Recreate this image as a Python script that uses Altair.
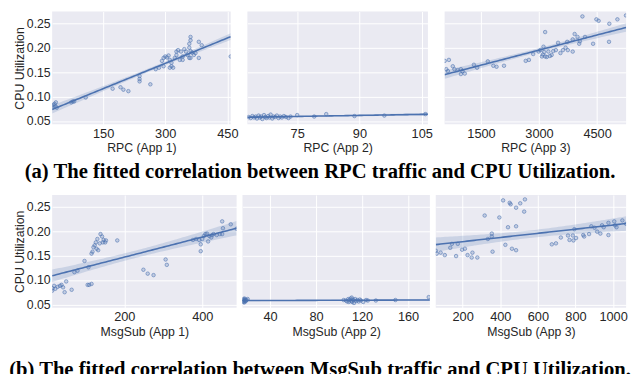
import altair as alt
import numpy as np
import pandas as pd

BLUE = "#4C72B0"
PANEL_BG = "#EAEAF2"
Y_DOMAIN = [0.043, 0.274]
Y_TICKS = [0.05, 0.10, 0.15, 0.20, 0.25]
Y_TITLE = "CPU Utilization"

CAPTION_A = "(a) The fitted correlation between RPC traffic and CPU Utilization."
CAPTION_B = "(b) The fitted correlation between MsgSub traffic and CPU Utilization."

# ---------------- RPC (App 1) ----------------
rpc1_title = "RPC (App 1)"
rpc1_domain = [27, 458]
rpc1_ticks = [150, 300, 450]
rpc1_x = [27, 30, 33, 36, 35, 38, 73, 77, 80, 108, 173, 192, 199, 211, 238, 238, 238, 264, 277, 285,
          292, 296, 296, 300, 304, 308, 311, 311, 315, 315, 319, 323, 327, 327, 331, 335, 338, 342, 342, 346,
          350, 354, 358, 358, 358, 361, 361, 361, 361, 365, 369, 373, 381, 381, 388, 458]
rpc1_y = [0.080, 0.083, 0.085, 0.088, 0.080, 0.077, 0.088, 0.090, 0.090, 0.098, 0.116, 0.119, 0.114, 0.111,
          0.142, 0.136, 0.131, 0.125, 0.156, 0.159, 0.173, 0.179, 0.162, 0.182, 0.180, 0.184, 0.175, 0.159,
          0.169, 0.162, 0.159, 0.179, 0.192, 0.185, 0.195, 0.175, 0.192, 0.182, 0.175, 0.197, 0.192, 0.185,
          0.179, 0.208, 0.200, 0.215, 0.179, 0.222, 0.193, 0.190, 0.185, 0.189, 0.212, 0.179, 0.205, 0.182]

# ---------------- RPC (App 2) ----------------
rpc2_title = "RPC (App 2)"
rpc2_domain = [63, 106.5]
rpc2_ticks = [75, 90, 105]
rpc2_x = [63.3, 63.8, 64.2, 64.6, 65.0, 65.3, 65.7, 66.0, 66.3, 66.6, 67.0, 67.3, 67.6, 68.0, 68.3, 68.6,
          69.0, 69.3, 69.7, 70.1, 70.5, 70.9, 71.3, 71.8, 72.3, 72.9, 73.4, 75.0, 79.1, 82.0, 88.8, 96.0, 105.9]
rpc2_y = [0.058, 0.056, 0.060, 0.057, 0.059, 0.055, 0.061, 0.057, 0.059, 0.054, 0.062, 0.058, 0.056, 0.060,
          0.057, 0.063, 0.055, 0.059, 0.058, 0.061, 0.056, 0.059, 0.057, 0.060, 0.058, 0.056, 0.059, 0.062,
          0.059, 0.064, 0.060, 0.061, 0.064]

# ---------------- RPC (App 3) ----------------
rpc3_title = "RPC (App 3)"
rpc3_domain = [560, 5250]
rpc3_ticks = [1500, 3000, 4500]
rpc3_x = [563, 671, 603, 646, 771, 814, 897, 981, 981, 1023, 1081, 1317, 1400, 1676, 1819, 1902, 2095,
          2656, 2739, 2849, 2990, 3033, 3075, 3115, 3133, 3158, 3158, 3241, 3326, 3367, 3435, 3492, 3553,
          3618, 3686, 3728, 3744, 3870, 3870, 3920, 3995, 4038, 4055, 4121, 4188, 4397, 4482, 4540, 4808,
          4816, 5025, 5247, 3100, 3200, 3280]
rpc3_y = [0.173, 0.175, 0.156, 0.152, 0.162, 0.156, 0.154, 0.156, 0.146, 0.152, 0.147, 0.165, 0.159, 0.172,
          0.163, 0.161, 0.163, 0.173, 0.175, 0.187, 0.192, 0.195, 0.182, 0.202, 0.191, 0.182, 0.232, 0.192,
          0.185, 0.193, 0.195, 0.210, 0.189, 0.195, 0.200, 0.212, 0.195, 0.192, 0.217, 0.228, 0.222, 0.208,
          0.213, 0.264, 0.222, 0.208, 0.258, 0.255, 0.212, 0.249, 0.258, 0.266, 0.186, 0.181, 0.183]

# ---------------- MsgSub (App 1) ----------------
msg1_title = "MsgSub (App 1)"
msg1_domain = [15, 488]
msg1_ticks = [200, 400]
msg1_x = [15, 16, 20, 23, 29, 35, 39, 43, 47, 51, 65, 72, 80, 98, 106, 110, 116, 108, 116, 118.5,
          121, 124, 127, 129, 131, 133, 137, 139, 143, 145, 147, 151, 153, 182, 249, 260, 275, 306, 309, 376,
          384, 392, 396, 396, 400, 404, 408, 412, 415, 418, 423, 425, 429, 437, 445, 451, 451, 453, 473, 488]
msg1_y = [0.078, 0.083, 0.088, 0.082, 0.086, 0.088, 0.090, 0.085, 0.075, 0.097, 0.080, 0.116, 0.119, 0.139,
          0.090, 0.090, 0.092, 0.126, 0.154, 0.158, 0.167, 0.171, 0.177, 0.164, 0.184, 0.161, 0.175, 0.194,
          0.189, 0.177, 0.182, 0.177, 0.181, 0.181, 0.121, 0.113, 0.110, 0.142, 0.131, 0.182, 0.184, 0.182,
          0.173, 0.159, 0.184, 0.190, 0.194, 0.195, 0.179, 0.190, 0.187, 0.192, 0.194, 0.192, 0.194, 0.220,
          0.194, 0.206, 0.214, 0.205]

# ---------------- MsgSub (App 2) ----------------
msg2_title = "MsgSub (App 2)"
msg2_domain = [16, 179]
msg2_ticks = [40, 80, 120, 160]
msg2_x = [16.2, 16.5, 16.8, 17.0, 17.3, 17.5, 17.8, 18.0, 18.3, 18.6, 19.0, 19.5, 20.5, 104, 106, 107, 108,
          108.5, 109, 110, 110.5, 111, 111.5, 112, 112.5, 113, 114, 115, 116, 117, 118, 119, 121, 123.5, 125,
          132, 149, 178]
msg2_y = [0.058, 0.055, 0.061, 0.056, 0.059, 0.054, 0.062, 0.057, 0.060, 0.056, 0.058, 0.059, 0.061, 0.059,
          0.058, 0.056, 0.061, 0.055, 0.059, 0.062, 0.057, 0.064, 0.055, 0.060, 0.058, 0.053, 0.061, 0.057,
          0.059, 0.056, 0.060, 0.058, 0.055, 0.059, 0.058, 0.058, 0.059, 0.065]

# ---------------- MsgSub (App 3) ----------------
msg3_title = "MsgSub (App 3)"
msg3_domain = [57, 1069]
msg3_ticks = [200, 400, 600, 800, 1000]
msg3_x = [57, 62, 83, 105, 134, 143, 165, 174, 197, 212, 226, 248, 252, 278, 317, 334, 355, 355, 359, 395,
          415, 427, 441, 450, 455, 462, 484, 484, 484, 506, 527, 531, 674, 696, 722, 760, 768, 786, 789, 794,
          803, 841, 846, 872, 884, 901, 915, 932, 941, 950, 975, 975, 1006, 1010, 1018, 1049, 1069]
msg3_y = [0.160, 0.154, 0.156, 0.151, 0.166, 0.174, 0.149, 0.174, 0.162, 0.164, 0.151, 0.146, 0.156, 0.146,
          0.232, 0.184, 0.195, 0.189, 0.158, 0.228, 0.263, 0.172, 0.208, 0.258, 0.255, 0.164, 0.210, 0.161,
          0.248, 0.257, 0.240, 0.265, 0.173, 0.175, 0.187, 0.191, 0.182, 0.191, 0.181, 0.204, 0.186, 0.192,
          0.189, 0.194, 0.210, 0.207, 0.199, 0.195, 0.212, 0.208, 0.217, 0.192, 0.220, 0.212, 0.208, 0.222,
          0.215]

ROW_H = 115
ROW1_W = [182, 184, 185]
ROW1_GAP = 17
ROW2_W = [188, 191, 194]
ROW2_GAP = 6
ROWS_GAP = 13


def fit_table(x, y, domain):
    """Ordinary least squares fit plus 95% confidence band, evaluated across the axis range."""
    x = np.asarray(x, float)
    y = np.asarray(y, float)
    n = len(x)
    slope, intercept = np.polyfit(x, y, 1)
    grid = np.linspace(domain[0], domain[1], 80)
    yhat = intercept + slope * grid
    resid = y - (intercept + slope * x)
    s = np.sqrt(np.sum(resid ** 2) / (n - 2))
    sxx = np.sum((x - x.mean()) ** 2)
    se = s * np.sqrt(1.0 / n + (grid - x.mean()) ** 2 / sxx)
    return pd.DataFrame({"x": grid, "fit": yhat, "lo": yhat - 1.96 * se, "hi": yhat + 1.96 * se})


def caption_layer(text, xpos, ypos):
    return alt.Chart(pd.DataFrame({"t": [text]})).mark_text(
        font="Liberation Serif", fontWeight="bold", fontSize=21, align="center",
        baseline="alphabetic", color="black", clip=False
    ).encode(text="t:N", x=alt.value(xpos), y=alt.value(ypos))


def panel(x, y, domain, ticks, title, width, show_y, extra=None):
    pts = pd.DataFrame({"x": x, "y": y})
    fit = fit_table(x, y, domain)
    xs = alt.Scale(domain=domain, nice=False, zero=False)
    ys = alt.Scale(domain=Y_DOMAIN, nice=False, zero=False)
    xax = alt.Axis(values=ticks, title=title, format="d", labelFlush=False, labelPadding=3,
                   titlePadding=2, labelOverlap=False)
    if show_y:
        yax = alt.Axis(values=Y_TICKS, format=".2f", title=Y_TITLE, labelPadding=2, titlePadding=0,
                       labelOverlap=False, labelFontSize=12.5, labelSeparation=0)
    else:
        yax = alt.Axis(values=Y_TICKS, labels=False, title=None)
    band = alt.Chart(fit).mark_area(color=BLUE, opacity=0.2, clip=True).encode(
        x=alt.X("x:Q", scale=xs, axis=xax),
        y=alt.Y("lo:Q", scale=ys, axis=yax),
        y2="hi:Q",
    )
    line = alt.Chart(fit).mark_line(color=BLUE, strokeWidth=1.6, clip=True).encode(
        x=alt.X("x:Q", scale=xs, axis=xax),
        y=alt.Y("fit:Q", scale=ys, axis=yax),
    )
    dots = alt.Chart(pts).mark_point(
        shape="circle", size=13, fill=BLUE, fillOpacity=0.25, stroke=BLUE, strokeOpacity=0.7,
        strokeWidth=0.8, clip=True
    ).encode(
        x=alt.X("x:Q", scale=xs, axis=xax),
        y=alt.Y("y:Q", scale=ys, axis=yax),
    )
    layers = [band, line, dots]
    if extra is not None:
        layers.append(extra)
    return alt.layer(*layers).properties(
        width=width, height=ROW_H, view=alt.ViewBackground(fill=PANEL_BG, stroke=None)
    )


# caption positions are relative to the middle panel of each row
cap_a = caption_layer(CAPTION_A, 74, 170)
cap_b = caption_layer(CAPTION_B, 79, 184)

row1 = alt.hconcat(
    panel(rpc1_x, rpc1_y, rpc1_domain, rpc1_ticks, rpc1_title, ROW1_W[0], True),
    panel(rpc2_x, rpc2_y, rpc2_domain, rpc2_ticks, rpc2_title, ROW1_W[1], False, cap_a),
    panel(rpc3_x, rpc3_y, rpc3_domain, rpc3_ticks, rpc3_title, ROW1_W[2], False),
    spacing=ROW1_GAP, bounds="flush",
)
row2 = alt.hconcat(
    panel(msg1_x, msg1_y, msg1_domain, msg1_ticks, msg1_title, ROW2_W[0], True),
    panel(msg2_x, msg2_y, msg2_domain, msg2_ticks, msg2_title, ROW2_W[1], False, cap_b),
    panel(msg3_x, msg3_y, msg3_domain, msg3_ticks, msg3_title, ROW2_W[2], False),
    spacing=ROW2_GAP, bounds="flush",
)

chart = alt.vconcat(row1, row2, spacing=ROWS_GAP).properties(padding=0).configure_view(
    stroke=None
).configure_axis(
    labelFont="Liberation Sans", titleFont="Liberation Sans", labelFontSize=13, titleFontSize=12.5,
    titleFontWeight="normal", labelColor="#262626", titleColor="#262626", ticks=False, tickSize=0,
    domain=False, grid=True, gridColor="white", gridWidth=1, labelOverlap=False
).configure_axisY(labelOverlap=False)

chart.save("out.html", embed_options={"renderer": "svg", "actions": False})
